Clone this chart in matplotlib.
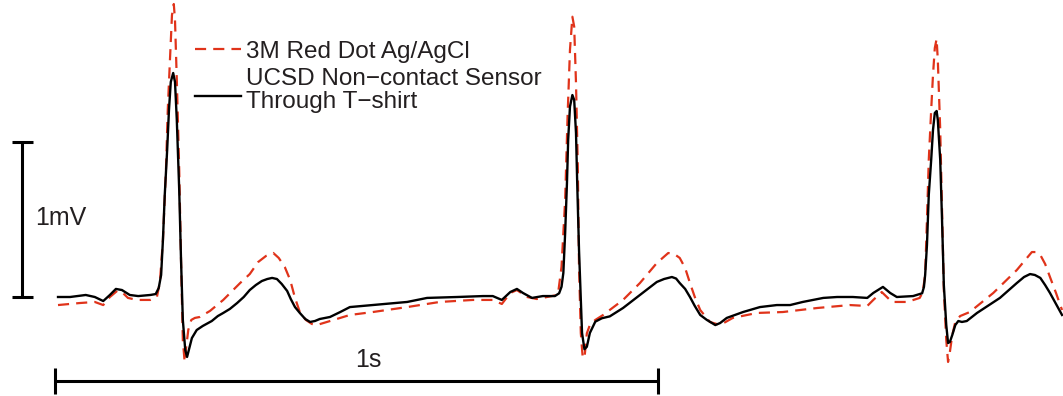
import matplotlib
matplotlib.use("Agg")
import matplotlib.pyplot as plt

# ECG traces, (time in s, amplitude in mV)
# non-contact sensor through a T-shirt
black_pts = [
    # baseline / P wave
    (0.005, 0.000), (0.025, 0.000), (0.051, 0.013), (0.066, 0.000), (0.080, -0.026),
    (0.091, 0.013), (0.101, 0.052), (0.111, 0.045), (0.124, 0.013), (0.138, 0.006),
    (0.158, 0.013),
    # QRS 1
    (0.167, 0.019), (0.172, 0.058), (0.176, 0.142), (0.179, 0.368), (0.182, 0.658),
    (0.186, 0.948), (0.189, 1.206), (0.192, 1.387), (0.196, 1.445), (0.199, 1.387),
    (0.202, 1.142), (0.206, 0.690), (0.209, 0.239), (0.212, -0.148), (0.216, -0.342),
    (0.219, -0.387), (0.222, -0.342), (0.227, -0.265), (0.235, -0.213), (0.245, -0.187),
    # T 1
    (0.260, -0.155), (0.270, -0.123), (0.279, -0.103), (0.290, -0.077), (0.302, -0.039),
    (0.313, 0.000), (0.323, 0.045), (0.333, 0.077), (0.343, 0.103), (0.352, 0.116),
    (0.360, 0.123), (0.368, 0.116), (0.376, 0.084), (0.385, 0.039), (0.391, -0.013),
    (0.398, -0.065), (0.406, -0.103), (0.415, -0.142), (0.423, -0.161), (0.431, -0.155),
    (0.439, -0.142), (0.456, -0.129),
    # baseline / P wave
    (0.473, -0.097), (0.489, -0.065), (0.527, -0.052), (0.584, -0.032), (0.617, -0.006),
    (0.667, 0.000), (0.710, 0.006), (0.726, 0.006), (0.741, -0.019), (0.755, 0.032),
    (0.766, 0.052), (0.776, 0.026), (0.791, -0.006), (0.809, 0.006),
    # QRS 2
    (0.829, 0.006), (0.836, 0.024), (0.840, 0.066), (0.843, 0.155), (0.846, 0.413),
    (0.849, 0.735), (0.851, 1.013), (0.854, 1.228), (0.858, 1.303), (0.861, 1.271),
    (0.864, 1.058), (0.866, 0.735), (0.869, 0.303), (0.872, -0.019), (0.874, -0.232),
    (0.878, -0.337), (0.882, -0.321), (0.887, -0.232), (0.896, -0.159), (0.907, -0.137),
    (0.920, -0.125),
    # T 2
    (0.942, -0.071), (0.970, 0.013), (0.998, 0.097), (1.010, 0.116), (1.023, 0.129),
    (1.030, 0.119), (1.036, 0.090), (1.045, 0.052), (1.053, 0.000), (1.061, -0.058),
    (1.070, -0.116), (1.081, -0.148), (1.095, -0.181), (1.103, -0.168), (1.114, -0.135),
    # baseline / P wave
    (1.141, -0.097), (1.169, -0.065), (1.197, -0.052), (1.219, -0.052), (1.240, -0.032),
    (1.274, -0.006), (1.297, 0.000), (1.323, 0.000), (1.347, -0.006), (1.357, 0.026),
    (1.373, 0.065), (1.385, 0.026), (1.396, 0.000), (1.423, 0.006),
    # QRS 3
    (1.438, 0.024), (1.441, 0.065), (1.443, 0.142), (1.446, 0.335), (1.449, 0.658),
    (1.453, 0.884), (1.456, 1.077), (1.459, 1.187), (1.462, 1.200), (1.464, 1.142),
    (1.468, 0.884), (1.471, 0.497), (1.474, 0.077), (1.478, -0.181), (1.481, -0.297),
    (1.484, -0.290), (1.488, -0.245), (1.493, -0.181), (1.498, -0.155), (1.504, -0.161),
    (1.512, -0.155), (1.529, -0.103),
    # T 3
    (1.567, -0.006), (1.595, 0.090), (1.607, 0.129), (1.617, 0.148), (1.625, 0.142),
    (1.634, 0.123), (1.642, 0.077), (1.650, 0.026), (1.660, -0.045), (1.670, -0.116),
]

# wet Ag/AgCl electrode
red_pts = [
    (0.005, -0.052), (0.041, -0.039), (0.066, -0.032), (0.080, -0.052), (0.091, 0.000),
    (0.103, 0.039), (0.111, 0.032), (0.121, -0.006), (0.136, -0.019), (0.158, -0.019),
    (0.169, 0.000), (0.174, 0.097), (0.179, 0.368), (0.184, 0.819), (0.187, 1.206),
    (0.191, 1.561), (0.194, 1.819), (0.197, 1.890), (0.199, 1.787), (0.202, 1.400),
    (0.206, 0.819), (0.209, 0.239), (0.212, -0.277), (0.215, -0.419), (0.217, -0.342),
    (0.221, -0.213), (0.226, -0.148), (0.232, -0.135), (0.240, -0.129),
    (0.257, -0.090), (0.279, -0.019), (0.307, 0.090), (0.323, 0.148), (0.337, 0.226),
    (0.350, 0.265), (0.362, 0.284), (0.371, 0.252), (0.381, 0.194), (0.390, 0.110),
    (0.398, -0.006), (0.406, -0.097), (0.416, -0.148), (0.426, -0.174), (0.434, -0.181),
    (0.451, -0.161), (0.473, -0.135),
    (0.489, -0.116), (0.527, -0.097), (0.584, -0.065), (0.638, -0.032), (0.693, -0.019),
    (0.726, -0.019), (0.741, -0.045), (0.755, 0.026), (0.766, 0.045), (0.783, 0.000),
    (0.799, -0.013), (0.833, 0.013),
    (0.835, 0.045), (0.840, 0.195), (0.846, 0.626), (0.850, 1.163), (0.854, 1.594),
    (0.858, 1.808), (0.861, 1.744), (0.864, 1.379), (0.867, 0.841), (0.869, 0.195),
    (0.872, -0.234), (0.875, -0.385), (0.878, -0.395), (0.882, -0.234), (0.887, -0.181),
    (0.896, -0.148), (0.909, -0.116),
    (0.942, -0.019), (0.970, 0.090), (0.998, 0.219), (1.017, 0.284), (1.027, 0.277),
    (1.036, 0.252), (1.045, 0.187), (1.053, 0.090), (1.061, 0.000), (1.070, -0.084),
    (1.086, -0.161), (1.103, -0.181), (1.124, -0.135),
    (1.164, -0.103), (1.207, -0.097), (1.264, -0.071), (1.318, -0.052), (1.347, -0.058),
    (1.357, -0.019), (1.371, 0.032), (1.388, -0.032), (1.413, -0.032), (1.434, -0.006),
    (1.439, 0.032), (1.443, 0.142), (1.446, 0.497), (1.449, 0.884), (1.453, 1.206),
    (1.456, 1.432), (1.459, 1.606), (1.462, 1.665), (1.464, 1.529), (1.468, 1.077),
    (1.471, 0.561), (1.474, 0.045), (1.478, -0.277), (1.481, -0.419), (1.484, -0.355),
    (1.488, -0.245), (1.493, -0.161), (1.501, -0.123), (1.517, -0.097),
    (1.556, 0.026), (1.595, 0.174), (1.609, 0.239), (1.620, 0.290), (1.627, 0.290),
    (1.634, 0.271), (1.642, 0.213), (1.650, 0.129), (1.660, 0.026), (1.670, -0.084),
]

red_label = "3M Red Dot Ag/AgCl"
black_label = "UCSD Non\u2212contact Sensor\nThrough T\u2212shirt"

# scale bars
bar_seconds = 1.0
bar_mv = 1.0

plt.rcParams['font.family'] = ['Liberation Sans', 'DejaVu Sans']
text_color = '#231f20'
red = '#e0331a'

black_t, black_mv = zip(*black_pts)
red_t, red_mv = zip(*red_pts)

fig = plt.figure(figsize=(10.63, 3.96), dpi=100)
ax = fig.add_axes([0, 0, 1, 1])
ax.set_xlim(-0.0912, 1.6716)
ax.set_ylim(-0.6387, 1.916)
ax.axis('off')

ax.plot(red_t, red_mv, color=red, lw=1.6, dashes=(5, 3.2), label=red_label)
ax.plot(black_t, black_mv, color='black', lw=1.7, solid_joinstyle='round',
        label=black_label)

# vertical 1 mV bar
vx = -0.0547
cap_w = 0.0174
ax.plot([vx, vx], [0, bar_mv], color='black', lw=2.2, solid_capstyle='butt')
for v in (0, bar_mv):
    ax.plot([vx - cap_w, vx + cap_w], [v, v], color='black', lw=2.2, solid_capstyle='butt')
ax.text(-0.0332, 0.4645, "1mV", fontsize=18, color=text_color, ha='left', va='baseline')

# horizontal 1 s bar
hy = -0.539
cap_h = 0.084
ax.plot([0, bar_seconds], [hy, hy], color='black', lw=2.2, solid_capstyle='butt')
for t in (0, bar_seconds):
    ax.plot([t, t], [hy - cap_h, hy + cap_h], color='black', lw=2.2, solid_capstyle='butt')
ax.text(0.4975, -0.45, "1s", fontsize=18, color=text_color, ha='left', va='baseline')

leg = ax.legend(loc='upper left', bbox_to_anchor=(0.1835, 0.897), frameon=False,
                fontsize=17.5, handlelength=1.89, handletextpad=0.2,
                labelspacing=0.22, borderpad=0, borderaxespad=0)
for txt in leg.get_texts():
    txt.set_color(text_color)
    txt.set_linespacing(1.06)
# sit the two-line entry's key a little lower, between its lines
black_key = leg.legend_handles[1]
black_key.set_ydata([y - 4.0 for y in black_key.get_ydata()])

fig.savefig('out.png', dpi=100)
